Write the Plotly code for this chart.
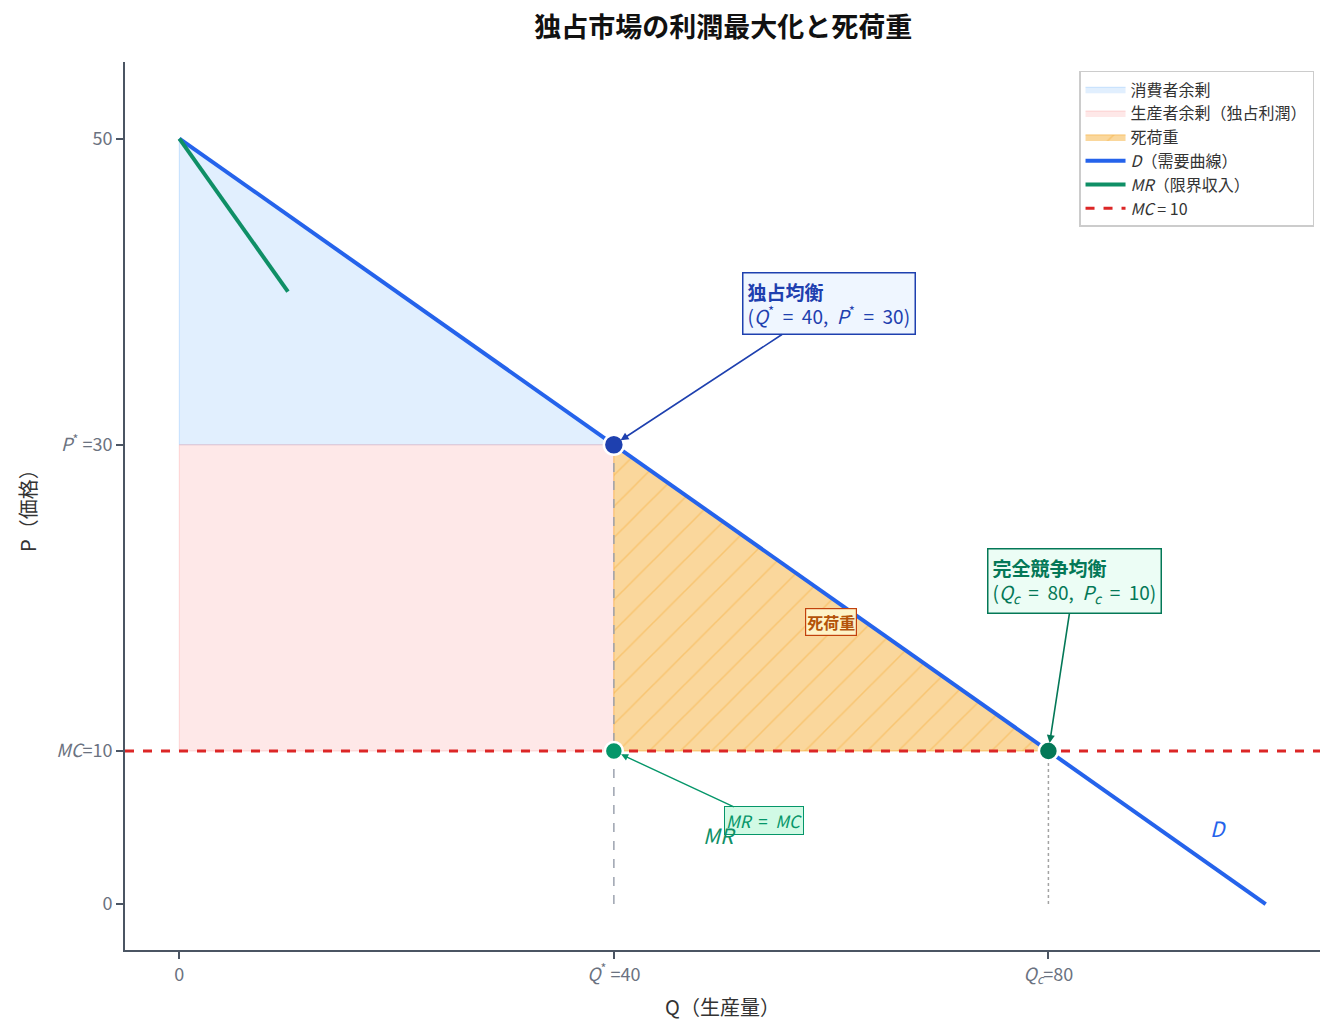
import plotly.graph_objects as go

# --- data ---
demand_q = [0, 100]
demand_p = [50, 0]
mr_q = [0, 10]
mr_p = [50, 40]
mc_q = [-5, 105]
mc_p = [10, 10]
cs_q = [0, 40, 0, 0]
cs_p = [50, 30, 30, 50]
ps_q = [0, 40, 40, 0, 0]
ps_p = [10, 10, 30, 30, 10]
dwl_q = [40, 80, 40, 40]
dwl_p = [30, 10, 10, 30]
q_star, p_star = 40, 30
q_c, p_c = 80, 10
mc_val = 10
x_tickvals = [0, 40, 80]
x_ticktext = ["0", "<i>Q</i><sup>*</sup> =40", "<i>Q<sub>c</sub></i>=80"]
y_tickvals = [0, 10, 30, 50]
y_ticktext = ["0", "<i>MC</i>=10", "<i>P</i><sup>*</sup> =30", "50"]

FONT = "Noto Sans CJK JP, Noto Sans, DejaVu Sans, sans-serif"

fig = go.Figure()

fig.add_trace(go.Scatter(x=cs_q, y=cs_p, mode="lines", fill="toself",
                         fillcolor="rgba(147,197,253,0.28)",
                         line=dict(color="rgba(147,197,253,0.45)", width=1),
                         name="消費者余剰", hoverinfo="skip"))
fig.add_trace(go.Scatter(x=ps_q, y=ps_p, mode="lines", fill="toself",
                         fillcolor="rgba(252,165,165,0.25)",
                         line=dict(color="rgba(252,165,165,0.4)", width=1),
                         name="生産者余剰（独占利潤）", hoverinfo="skip"))
fig.add_trace(go.Scatter(x=dwl_q, y=dwl_p, mode="lines", fill="toself",
                         fillcolor="rgb(250,215,156)",
                         fillpattern=dict(shape="/", fgcolor="rgba(245,170,50,0.8)",
                                          bgcolor="rgb(250,215,156)", size=22, solidity=0.07),
                         line=dict(color="rgba(245,170,50,0.6)", width=1),
                         name="死荷重", hoverinfo="skip"))

# guide lines
fig.add_trace(go.Scatter(x=[q_star, q_star], y=[0, p_star], mode="lines",
                         line=dict(color="#9ca3af", width=1.5, dash="dash"),
                         showlegend=False, hoverinfo="skip"))
fig.add_trace(go.Scatter(x=[q_c, q_c], y=[0, p_c], mode="lines",
                         line=dict(color="#a3a3a3", width=1.5, dash="dot"),
                         showlegend=False, hoverinfo="skip"))

fig.add_trace(go.Scatter(x=demand_q, y=demand_p, mode="lines",
                         line=dict(color="#2563eb", width=4),
                         name="<i>D</i>（需要曲線）"))
fig.add_trace(go.Scatter(x=mr_q, y=mr_p, mode="lines",
                         line=dict(color="#0f8f66", width=4),
                         name="<i>MR</i>（限界収入）"))
fig.add_trace(go.Scatter(x=mc_q, y=mc_p, mode="lines",
                         line=dict(color="#dc2626", width=3, dash="dash"),
                         name="<i>MC</i> = 10"))

# points
fig.add_trace(go.Scatter(x=[q_star], y=[p_star], mode="markers",
                         marker=dict(size=20, color="#1e40af", line=dict(color="white", width=2.5)),
                         showlegend=False))
fig.add_trace(go.Scatter(x=[q_star], y=[mc_val], mode="markers",
                         marker=dict(size=18, color="#059669", line=dict(color="white", width=2.5)),
                         showlegend=False))
fig.add_trace(go.Scatter(x=[q_c], y=[p_c], mode="markers",
                         marker=dict(size=19, color="#047857", line=dict(color="white", width=2.5)),
                         showlegend=False))

# annotations
fig.add_annotation(x=q_star, y=p_star, xref="x", yref="y",
                   text="<b>独占均衡</b><br>(<i>Q</i><sup>*</sup>  =  40,  <i>P</i><sup>*</sup>  =  30)",
                   showarrow=True, arrowhead=2, arrowsize=1, arrowwidth=1.6, arrowcolor="#1e40af",
                   ax=215, ay=-141, standoff=8, align="left",
                   font=dict(family=FONT, size=19, color="#1e40af"),
                   bgcolor="#eff6ff", bordercolor="#1e40af", borderwidth=1.5, borderpad=4)
fig.add_annotation(x=q_c, y=p_c, xref="x", yref="y",
                   text="<b>完全競争均衡</b><br>(<i>Q<sub>c</sub></i>  =  80,  <i>P<sub>c</sub></i>  =  10)",
                   showarrow=True, arrowhead=2, arrowsize=1, arrowwidth=1.6, arrowcolor="#047857",
                   ax=26, ay=-170, standoff=8, align="left",
                   font=dict(family=FONT, size=19, color="#047857"),
                   bgcolor="#ecfdf5", bordercolor="#047857", borderwidth=1.5, borderpad=4)
fig.add_annotation(x=q_star, y=mc_val, xref="x", yref="y",
                   text="<i>MR</i>  =  <i>MC</i>",
                   showarrow=True, arrowhead=2, arrowsize=1, arrowwidth=1.4, arrowcolor="#059669",
                   ax=150, ay=70, standoff=8,
                   font=dict(family=FONT, size=17, color="#059669"),
                   bgcolor="#d1fae5", bordercolor="#059669", borderwidth=1, borderpad=1)
fig.add_annotation(x=60, y=18.4, xref="x", yref="y", text="<b>死荷重</b>", showarrow=False,
                   font=dict(family=FONT, size=16, color="#b45309"),
                   bgcolor="#fef3c7", bordercolor="#c2410c", borderwidth=1.2, borderpad=1)
fig.add_annotation(x=49.7, y=4.5, xref="x", yref="y", text="<i>MR</i>", showarrow=False,
                   font=dict(family=FONT, size=21, color="#0f8f66"))
fig.add_annotation(x=95.7, y=5.0, xref="x", yref="y", text="<i>D</i>", showarrow=False,
                   font=dict(family=FONT, size=21, color="#2563eb"))
# y-axis title placed as rotated text
fig.add_annotation(x=-0.082, y=0.5, xref="paper", yref="paper", text="P（価格）",
                   showarrow=False, textangle=-90, xanchor="center", yanchor="middle",
                   font=dict(family=FONT, size=20, color="#333333"))

fig.update_layout(
    width=1327, height=1027,
    margin=dict(l=117, r=15, t=54, b=85),
    paper_bgcolor="white", plot_bgcolor="white",
    font=dict(family=FONT, color="#333333"),
    title=dict(text="<b>独占市場の利潤最大化と死荷重</b>", x=0.539, xanchor="center", y=0.9805,
               yanchor="middle", font=dict(family=FONT, size=27, color="#111111")),
    legend=dict(x=0.995, y=0.99, xanchor="right", yanchor="top", itemwidth=40,
                bgcolor="rgba(255,255,255,0.95)", bordercolor="#cccccc", borderwidth=1.5,
                font=dict(family=FONT, size=16, color="#333333"), tracegroupgap=2),
    xaxis=dict(range=[-5, 105], tickvals=x_tickvals, ticktext=x_ticktext,
               showgrid=False, zeroline=False, showline=True, linecolor="#4b5563", linewidth=2,
               ticks="outside", ticklen=7, tickcolor="#4b5563", tickwidth=1.5,
               tickfont=dict(family=FONT, size=18, color="#6b7280"),
               title=dict(text="Q（生産量）", font=dict(family=FONT, size=20, color="#333333"), standoff=14)),
    yaxis=dict(range=[-3, 55], tickvals=y_tickvals, ticktext=y_ticktext,
               showgrid=False, zeroline=False, showline=True, linecolor="#4b5563", linewidth=2,
               ticks="outside", ticklen=7, tickcolor="#4b5563", tickwidth=1.5,
               tickfont=dict(family=FONT, size=18, color="#6b7280")),
)

fig.write_html("out.html")
